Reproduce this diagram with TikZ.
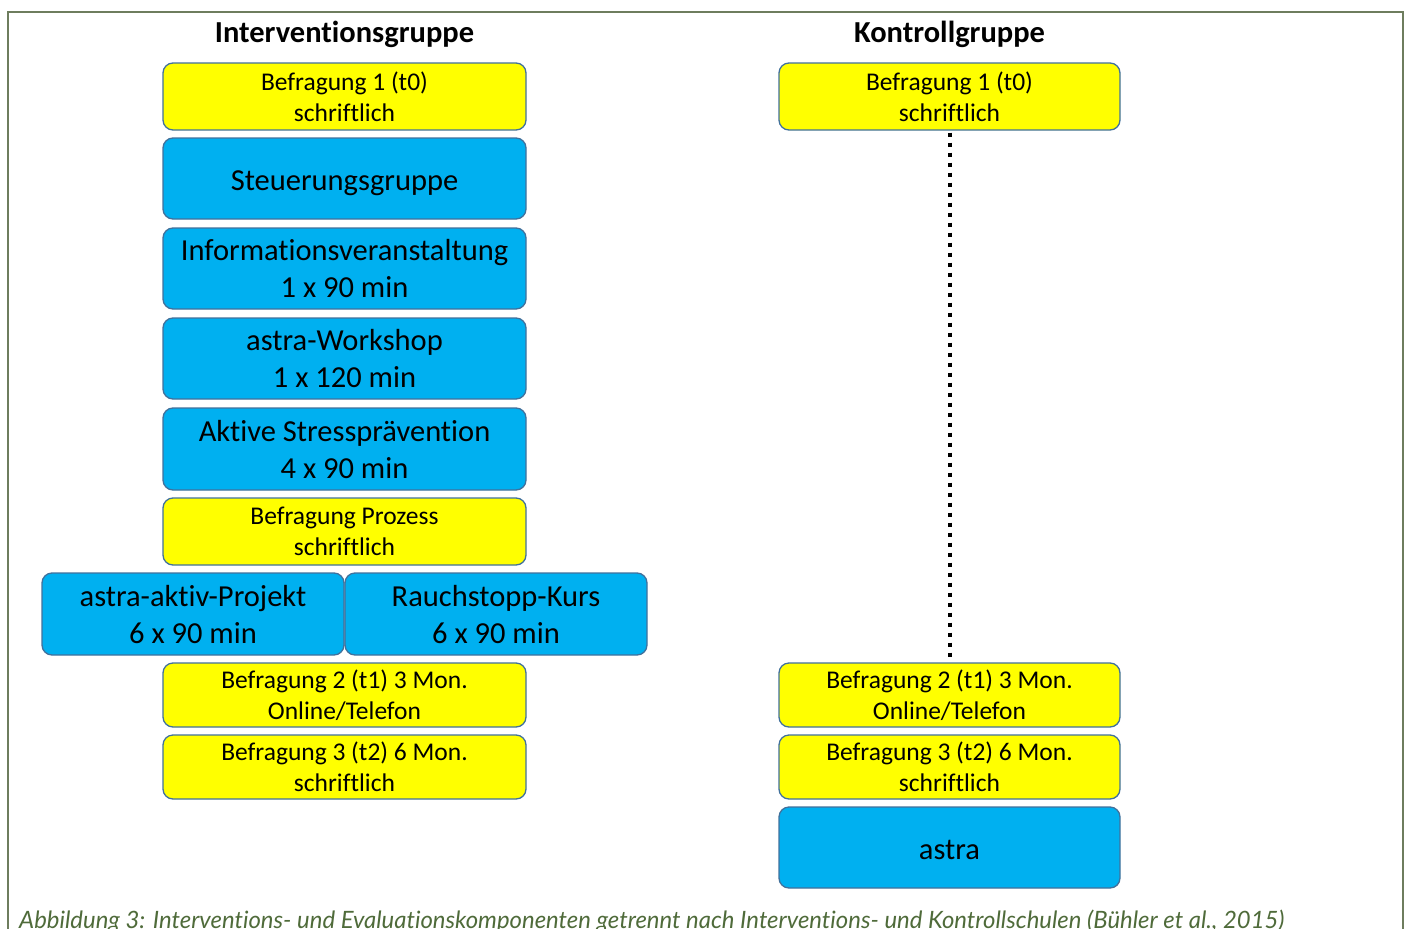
\documentclass[tikz,border=0pt]{standalone}
\usepackage{fontspec}
\setmainfont{Carlito}[Ligatures=NoCommon]
\newfontfamily\capfont{Lato}[Ligatures=NoCommon]
\definecolor{boxyellow}{HTML}{FFFF00}
\definecolor{boxblue}{HTML}{00B0F0}
\definecolor{boxedge}{HTML}{41719C}
\definecolor{framecol}{HTML}{6E7D5E}
\definecolor{capcol}{HTML}{4F6B3A}
\tikzset{
  basebox/.style={draw=boxedge, line width=1.3pt, rounded corners=10pt, align=center, inner sep=0pt, text=black},
  yellowbox/.style={basebox, fill=boxyellow, font=\fontsize{25.5}{31}\selectfont},
  bluebox/.style={basebox, fill=boxblue, font=\fontsize{30.5}{37}\selectfont},
  bluetwo/.style={bluebox, text depth=-4pt},
  header/.style={font=\bfseries\fontsize{30.5}{34}\selectfont, inner sep=0pt},
}
\begin{document}
\begin{tikzpicture}[x=1pt,y=-1pt]
\useasboundingbox (0,0) rectangle (1406,929);
\fill[white] (0,0) rectangle (1406,929);
\draw[framecol, line width=1.5pt] (8,940) -- (8,12) -- (1403,12) -- (1403,940);

\node[header] (hi) at (344.5,34.5) {Interventionsgruppe};
\node[header] (hk) at (949.5,34.5) {Kontrollgruppe};

% left column
\node[yellowbox, minimum width=363, minimum height=67] (ib1) at (344.5,96.5) {Befragung 1 (t0)\\schriftlich};
\node[bluebox, minimum width=363, minimum height=81, text height=30pt] (ist) at (344.5,178.5) {Steuerungsgruppe};
\node[bluetwo, minimum width=363, minimum height=81] (iin) at (344.5,268.5) {Informationsveranstaltung\\1 x 90 min};
\node[bluetwo, minimum width=363, minimum height=81] (iws) at (344.5,358.5) {astra-Workshop\\1 x 120 min};
\node[bluetwo, minimum width=363, minimum height=82] (ias) at (344.5,449) {Aktive Stresspr\"avention\\4 x 90 min};
\node[yellowbox, minimum width=363, minimum height=67] (ibp) at (344.5,531.5) {Befragung Prozess\\schriftlich};
\node[bluetwo, minimum width=302, minimum height=82] (iap) at (193,614) {astra-aktiv-Projekt\\6 x 90 min};
\node[bluetwo, minimum width=302, minimum height=82] (irk) at (496,614) {Rauchstopp-Kurs\\6 x 90 min};
\node[yellowbox, minimum width=363, minimum height=64] (ib2) at (344.5,695) {Befragung 2 (t1) 3 Mon.\\Online/Telefon};
\node[yellowbox, minimum width=363, minimum height=64] (ib3) at (344.5,767) {Befragung 3 (t2) 6 Mon.\\schriftlich};

% right column
\node[yellowbox, minimum width=341, minimum height=67] (kb1) at (949.5,96.5) {Befragung 1 (t0)\\schriftlich};
\node[yellowbox, minimum width=341, minimum height=64] (kb2) at (949.5,695) {Befragung 2 (t1) 3 Mon.\\Online/Telefon};
\node[yellowbox, minimum width=341, minimum height=64] (kb3) at (949.5,767) {Befragung 3 (t2) 6 Mon.\\schriftlich};
\node[bluebox, minimum width=341, minimum height=81, text height=24pt] (kas) at (949.5,847.5) {astra};

\draw[black, line width=4pt, dash pattern=on 4pt off 6pt] ([yshift=-2pt]kb1.south) -- (kb2.north);

\node[anchor=base west, inner sep=0pt, text=capcol, font=\capfont\itshape\fontsize{23.9}{26}\selectfont] (cap) at (19,928) {Abbildung 3: Interventions- und Evaluationskomponenten getrennt nach Interventions- und Kontrollschulen (B\"uhler et al., 2015)};
\end{tikzpicture}
\end{document}
